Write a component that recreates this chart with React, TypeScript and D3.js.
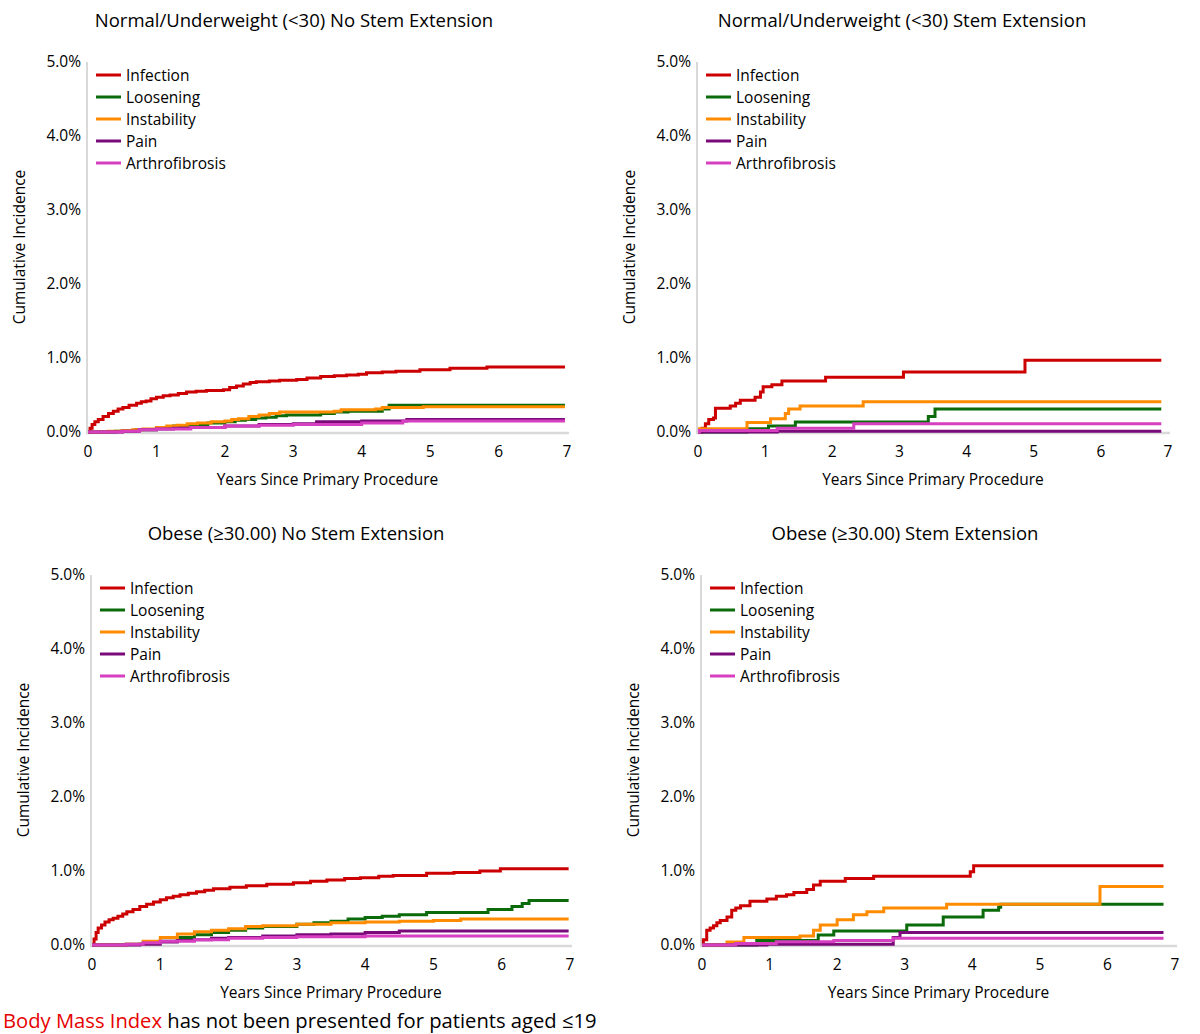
import { line, curveStepAfter, scaleLinear } from "d3";

type Pt = [number, number];

const causes = ["Infection", "Loosening", "Instability", "Pain", "Arthrofibrosis"];
const causeColors = ["#cc0000", "#0b6b0b", "#ff8c00", "#7a0a7a", "#d63fc0"];
const yTicks = [0, 1, 2, 3, 4, 5];
const xTicks = [0, 1, 2, 3, 4, 5, 6, 7];

// Normal/Underweight, no stem extension
const tlInfection: Pt[] = [[0, 0], [0.03, 0.05], [0.06, 0.1], [0.1, 0.14], [0.15, 0.17], [0.22, 0.21], [0.3, 0.25], [0.37, 0.28], [0.44, 0.31], [0.51, 0.33], [0.6, 0.36], [0.71, 0.39], [0.78, 0.41], [0.85, 0.42], [0.92, 0.45], [1.0, 0.47], [1.1, 0.49], [1.2, 0.5], [1.32, 0.52], [1.44, 0.54], [1.58, 0.55], [1.73, 0.56], [1.98, 0.57], [2.07, 0.6], [2.17, 0.62], [2.27, 0.65], [2.37, 0.67], [2.46, 0.68], [2.65, 0.69], [2.8, 0.7], [3.05, 0.71], [3.2, 0.73], [3.4, 0.75], [3.6, 0.76], [3.78, 0.77], [3.95, 0.78], [4.07, 0.8], [4.3, 0.81], [4.5, 0.82], [4.85, 0.84], [5.29, 0.86], [5.83, 0.88], [6.97, 0.88]];
const tlLoosening: Pt[] = [[0, 0], [0.4, 0.01], [0.7, 0.03], [1.0, 0.05], [1.25, 0.08], [1.5, 0.1], [1.75, 0.12], [2.0, 0.14], [2.15, 0.16], [2.3, 0.17], [2.45, 0.19], [2.6, 0.2], [2.75, 0.22], [2.9, 0.23], [3.4, 0.25], [3.6, 0.27], [3.8, 0.28], [4.3, 0.31], [4.4, 0.36], [6.97, 0.36]];
const tlInstability: Pt[] = [[0, 0], [0.3, 0.01], [0.5, 0.02], [0.65, 0.03], [0.8, 0.04], [1.0, 0.06], [1.15, 0.08], [1.3, 0.09], [1.45, 0.11], [1.6, 0.12], [1.8, 0.14], [2.0, 0.15], [2.1, 0.17], [2.2, 0.18], [2.35, 0.21], [2.5, 0.23], [2.65, 0.25], [2.8, 0.27], [3.6, 0.28], [3.7, 0.3], [4.2, 0.31], [4.3, 0.33], [4.9, 0.34], [6.97, 0.34]];
const tlPain: Pt[] = [[0, 0], [0.5, 0.01], [0.75, 0.03], [1.0, 0.04], [1.25, 0.05], [1.5, 0.06], [2.0, 0.08], [2.5, 0.1], [3.0, 0.11], [3.34, 0.14], [4.0, 0.15], [4.66, 0.17], [6.97, 0.17]];
const tlArthrofibrosis: Pt[] = [[0, 0], [0.5, 0.01], [0.75, 0.03], [1.0, 0.04], [1.5, 0.06], [2.0, 0.08], [2.5, 0.09], [3.0, 0.1], [4.0, 0.12], [4.6, 0.15], [6.97, 0.15]];

// Normal/Underweight, stem extension
const trInfection: Pt[] = [[0, 0], [0.06, 0.05], [0.11, 0.11], [0.16, 0.17], [0.23, 0.19], [0.26, 0.32], [0.48, 0.35], [0.56, 0.39], [0.63, 0.43], [0.85, 0.47], [0.93, 0.54], [0.97, 0.61], [1.1, 0.64], [1.25, 0.69], [1.9, 0.74], [3.06, 0.81], [4.87, 0.97], [6.9, 0.97]];
const trLoosening: Pt[] = [[0, 0], [0.73, 0.045], [1.05, 0.08], [1.45, 0.135], [3.43, 0.21], [3.53, 0.31], [6.9, 0.31]];
const trInstability: Pt[] = [[0, 0.045], [0.73, 0.13], [1.08, 0.18], [1.3, 0.25], [1.35, 0.31], [1.52, 0.35], [2.46, 0.41], [6.9, 0.41]];
const trPain: Pt[] = [[0, 0], [1.18, 0.01], [6.9, 0.01]];
const trArthrofibrosis: Pt[] = [[0, 0], [0.02, 0.02], [1.18, 0.05], [2.32, 0.11], [6.9, 0.11]];

// Obese, no stem extension
const blInfection: Pt[] = [[0, 0], [0.03, 0.08], [0.06, 0.17], [0.09, 0.23], [0.14, 0.27], [0.19, 0.31], [0.25, 0.34], [0.31, 0.36], [0.38, 0.39], [0.45, 0.42], [0.51, 0.45], [0.6, 0.48], [0.7, 0.52], [0.8, 0.55], [0.9, 0.58], [1.0, 0.61], [1.09, 0.64], [1.19, 0.66], [1.29, 0.68], [1.41, 0.7], [1.53, 0.72], [1.65, 0.74], [1.78, 0.76], [2.02, 0.78], [2.26, 0.8], [2.56, 0.82], [2.95, 0.84], [3.2, 0.86], [3.44, 0.88], [3.7, 0.9], [3.93, 0.91], [4.2, 0.93], [4.41, 0.94], [4.9, 0.97], [5.3, 0.98], [5.68, 1.0], [5.98, 1.03], [6.98, 1.03]];
const blLoosening: Pt[] = [[0, 0], [0.5, 0.01], [0.75, 0.03], [1.0, 0.05], [1.25, 0.1], [1.5, 0.14], [1.75, 0.17], [2.0, 0.2], [2.25, 0.23], [2.5, 0.25], [3.0, 0.28], [3.25, 0.3], [3.5, 0.32], [3.75, 0.35], [4.0, 0.37], [4.25, 0.39], [4.5, 0.41], [4.9, 0.44], [5.8, 0.48], [6.15, 0.52], [6.3, 0.56], [6.4, 0.6], [6.98, 0.6]];
const blInstability: Pt[] = [[0, 0], [0.5, 0.01], [0.75, 0.05], [1.0, 0.1], [1.25, 0.15], [1.5, 0.18], [1.75, 0.2], [2.0, 0.22], [2.25, 0.25], [2.5, 0.26], [3.0, 0.28], [3.5, 0.3], [4.0, 0.31], [4.5, 0.32], [5.0, 0.33], [5.4, 0.35], [6.98, 0.35]];
const blPain: Pt[] = [[0, 0], [0.7, 0.01], [1.0, 0.04], [1.25, 0.06], [1.5, 0.07], [1.75, 0.09], [2.0, 0.1], [2.5, 0.12], [3.0, 0.14], [3.5, 0.15], [4.0, 0.17], [4.5, 0.19], [6.98, 0.19]];
const blArthrofibrosis: Pt[] = [[0, 0], [0.5, 0.01], [0.75, 0.03], [1.0, 0.05], [1.5, 0.07], [2.0, 0.09], [2.5, 0.1], [3.0, 0.11], [4.0, 0.12], [6.98, 0.12]];

// Obese, stem extension
const brInfection: Pt[] = [[0, 0], [0.02, 0.07], [0.07, 0.2], [0.12, 0.23], [0.17, 0.26], [0.22, 0.3], [0.27, 0.33], [0.37, 0.38], [0.44, 0.47], [0.5, 0.5], [0.57, 0.53], [0.71, 0.59], [0.96, 0.62], [1.1, 0.66], [1.25, 0.68], [1.36, 0.71], [1.55, 0.75], [1.65, 0.81], [1.75, 0.86], [2.12, 0.9], [2.54, 0.93], [3.97, 0.99], [4.02, 1.07], [6.83, 1.07]];
const brLoosening: Pt[] = [[0, 0], [0.81, 0.06], [1.72, 0.135], [1.95, 0.19], [3.03, 0.27], [3.57, 0.38], [4.16, 0.47], [4.39, 0.51], [4.42, 0.55], [6.83, 0.55]];
const brInstability: Pt[] = [[0, 0], [0.37, 0.04], [0.62, 0.1], [1.45, 0.12], [1.65, 0.2], [1.75, 0.27], [2.0, 0.34], [2.24, 0.41], [2.44, 0.45], [2.69, 0.5], [3.62, 0.55], [5.89, 0.79], [6.83, 0.79]];
const brPain: Pt[] = [[0, 0], [0.96, 0.01], [2.83, 0.1], [2.93, 0.17], [6.83, 0.17]];
const brArthrofibrosis: Pt[] = [[0, 0], [0.5, 0.02], [1.1, 0.045], [1.95, 0.06], [2.83, 0.09], [6.83, 0.09]];

const FONT = "'Open Sans', 'Noto Sans', sans-serif";

type PanelProps = {
  title: string;
  titleX: number;
  titleY: number;
  x0: number;
  x1: number;
  y0: number;
  y1: number;
  series: Pt[][];
};

function Panel({ title, titleX, titleY, x0, x1, y0, y1, series }: PanelProps) {
  const x = scaleLinear().domain([0, 7]).range([x0, x1]);
  const y = scaleLinear().domain([0, 5]).range([y1, y0]);
  const path = line<Pt>()
    .x((d) => x(d[0]))
    .y((d) => y(d[1]))
    .curve(curveStepAfter);

  return (
    <g fontFamily={FONT} fill="#000">
      <text x={titleX} y={titleY} textAnchor="middle" fontSize={18.5}>
        {title}
      </text>
      <line x1={x0 - 1} x2={x0 - 1} y1={y0} y2={y1} stroke="#d9d9d9" strokeWidth={2} />
      <line x1={x0 - 2} x2={x1 + 2} y1={y1 + 1} y2={y1 + 1} stroke="#d9d9d9" strokeWidth={2.5} />
      {yTicks.map((t) => (
        <text key={t} x={x0 - 7} y={y(t) + 5} textAnchor="end" fontSize={15.5}>
          {`${t.toFixed(1)}%`}
        </text>
      ))}
      {xTicks.map((t) => (
        <text key={t} x={x(t)} y={y1 + 25} textAnchor="middle" fontSize={15.5}>
          {t}
        </text>
      ))}
      <text
        transform={`translate(${x0 - 63}, ${(y0 + y1) / 2}) rotate(-90)`}
        textAnchor="middle"
        fontSize={15.5}
      >
        Cumulative Incidence
      </text>
      <text x={(x0 + x1) / 2} y={y1 + 53} textAnchor="middle" fontSize={15.5}>
        Years Since Primary Procedure
      </text>
      {series.map((s, i) => (
        <path
          key={causes[i]}
          d={path(s) ?? ""}
          fill="none"
          stroke={causeColors[i]}
          strokeWidth={3}
          strokeLinejoin="miter"
        />
      ))}
      {causes.map((c, i) => (
        <g key={c} transform={`translate(${x0 + 8}, ${y0 + 13 + i * 22})`}>
          <line x1={0} x2={25} y1={0} y2={0} stroke={causeColors[i]} strokeWidth={3} />
          <text x={30} y={6} fontSize={15.5}>
            {c}
          </text>
        </g>
      ))}
    </g>
  );
}

export default function App() {
  return (
    <svg
      width={1200}
      height={1034}
      viewBox="0 0 1200 1034"
      style={{ position: "absolute", left: 0, top: 0, background: "#fff" }}
    >
      <rect width={1200} height={1034} fill="#fff" />
      <Panel
        title="Normal/Underweight (<30) No Stem Extension"
        titleX={294}
        titleY={27}
        x0={88}
        x1={567}
        y0={62}
        y1={432}
        series={[tlInfection, tlLoosening, tlInstability, tlPain, tlArthrofibrosis]}
      />
      <Panel
        title="Normal/Underweight (<30) Stem Extension"
        titleX={902}
        titleY={27}
        x0={698}
        x1={1168}
        y0={62}
        y1={432}
        series={[trInfection, trLoosening, trInstability, trPain, trArthrofibrosis]}
      />
      <Panel
        title="Obese (≥30.00) No Stem Extension"
        titleX={296}
        titleY={540}
        x0={92}
        x1={570}
        y0={575}
        y1={945}
        series={[blInfection, blLoosening, blInstability, blPain, blArthrofibrosis]}
      />
      <Panel
        title="Obese (≥30.00) Stem Extension"
        titleX={905}
        titleY={540}
        x0={702}
        x1={1175}
        y0={575}
        y1={945}
        series={[brInfection, brLoosening, brInstability, brPain, brArthrofibrosis]}
      />
      <text x={3} y={1028} fontFamily={FONT} fontSize={20.2} fill="#000">
        <tspan fill="#e60000">Body Mass Index</tspan> has not been presented for patients aged ≤19
      </text>
    </svg>
  );
}
